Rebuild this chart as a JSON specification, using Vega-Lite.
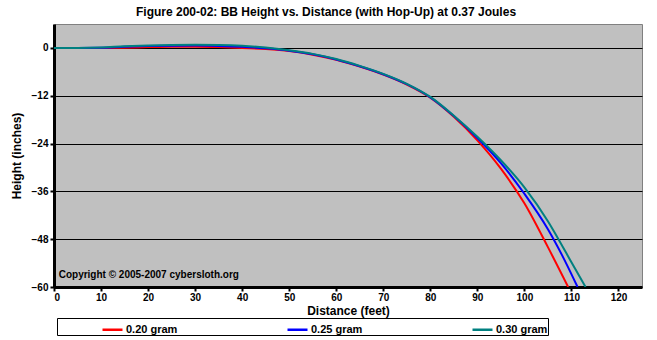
{
  "$schema": "https://vega.github.io/schema/vega-lite/v6.json",
  "width": 588,
  "height": 263,
  "autosize": {"type": "none"},
  "padding": {"left": 54, "top": 24, "right": 15, "bottom": 53},
  "background": "white",
  "title": {
    "text": "Figure 200-02:  BB Height vs. Distance (with Hop-Up) at 0.37 Joules",
    "font": "Liberation Sans",
    "fontSize": 12,
    "fontWeight": "bold",
    "color": "black",
    "anchor": "middle",
    "frame": "bounds",
    "offset": 5
  },
  "config": {
    "font": "Liberation Sans",
    "view": {"fill": "#C0C0C0", "stroke": "#808080", "strokeWidth": 1}
  },
  "data": {
    "values": [
      {"d": 0, "h": 0, "s": "0.20 gram"},
      {"d": 5, "h": 0, "s": "0.20 gram"},
      {"d": 10, "h": 0, "s": "0.20 gram"},
      {"d": 15, "h": 0.05, "s": "0.20 gram"},
      {"d": 20, "h": 0.2, "s": "0.20 gram"},
      {"d": 25, "h": 0.3, "s": "0.20 gram"},
      {"d": 30, "h": 0.3, "s": "0.20 gram"},
      {"d": 35, "h": 0.2, "s": "0.20 gram"},
      {"d": 40, "h": 0, "s": "0.20 gram"},
      {"d": 45, "h": -0.3, "s": "0.20 gram"},
      {"d": 50, "h": -0.8, "s": "0.20 gram"},
      {"d": 55, "h": -1.7, "s": "0.20 gram"},
      {"d": 60, "h": -3.0, "s": "0.20 gram"},
      {"d": 65, "h": -4.7, "s": "0.20 gram"},
      {"d": 70, "h": -6.7, "s": "0.20 gram"},
      {"d": 75, "h": -9.2, "s": "0.20 gram"},
      {"d": 80, "h": -12.5, "s": "0.20 gram"},
      {"d": 85, "h": -17.3, "s": "0.20 gram"},
      {"d": 90, "h": -23.2, "s": "0.20 gram"},
      {"d": 95, "h": -30.3, "s": "0.20 gram"},
      {"d": 100, "h": -39.0, "s": "0.20 gram"},
      {"d": 105, "h": -50.0, "s": "0.20 gram"},
      {"d": 109.3, "h": -60, "s": "0.20 gram"},
      {"d": 0, "h": 0, "s": "0.25 gram"},
      {"d": 5, "h": 0, "s": "0.25 gram"},
      {"d": 10, "h": 0.05, "s": "0.25 gram"},
      {"d": 15, "h": 0.3, "s": "0.25 gram"},
      {"d": 20, "h": 0.45, "s": "0.25 gram"},
      {"d": 25, "h": 0.55, "s": "0.25 gram"},
      {"d": 30, "h": 0.6, "s": "0.25 gram"},
      {"d": 35, "h": 0.5, "s": "0.25 gram"},
      {"d": 40, "h": 0.3, "s": "0.25 gram"},
      {"d": 45, "h": -0.1, "s": "0.25 gram"},
      {"d": 50, "h": -0.7, "s": "0.25 gram"},
      {"d": 55, "h": -1.6, "s": "0.25 gram"},
      {"d": 60, "h": -2.9, "s": "0.25 gram"},
      {"d": 65, "h": -4.6, "s": "0.25 gram"},
      {"d": 70, "h": -6.6, "s": "0.25 gram"},
      {"d": 75, "h": -9.1, "s": "0.25 gram"},
      {"d": 80, "h": -12.4, "s": "0.25 gram"},
      {"d": 85, "h": -17.1, "s": "0.25 gram"},
      {"d": 90, "h": -22.6, "s": "0.25 gram"},
      {"d": 95, "h": -28.9, "s": "0.25 gram"},
      {"d": 100, "h": -36.6, "s": "0.25 gram"},
      {"d": 105, "h": -45.5, "s": "0.25 gram"},
      {"d": 108, "h": -52.0, "s": "0.25 gram"},
      {"d": 111.3, "h": -60, "s": "0.25 gram"},
      {"d": 0, "h": 0, "s": "0.30 gram"},
      {"d": 5, "h": 0, "s": "0.30 gram"},
      {"d": 10, "h": 0.1, "s": "0.30 gram"},
      {"d": 15, "h": 0.4, "s": "0.30 gram"},
      {"d": 20, "h": 0.6, "s": "0.30 gram"},
      {"d": 25, "h": 0.75, "s": "0.30 gram"},
      {"d": 30, "h": 0.8, "s": "0.30 gram"},
      {"d": 35, "h": 0.75, "s": "0.30 gram"},
      {"d": 40, "h": 0.55, "s": "0.30 gram"},
      {"d": 45, "h": 0.1, "s": "0.30 gram"},
      {"d": 50, "h": -0.6, "s": "0.30 gram"},
      {"d": 55, "h": -1.5, "s": "0.30 gram"},
      {"d": 60, "h": -2.8, "s": "0.30 gram"},
      {"d": 65, "h": -4.5, "s": "0.30 gram"},
      {"d": 70, "h": -6.5, "s": "0.30 gram"},
      {"d": 75, "h": -9.0, "s": "0.30 gram"},
      {"d": 80, "h": -12.3, "s": "0.30 gram"},
      {"d": 85, "h": -17.0, "s": "0.30 gram"},
      {"d": 90, "h": -22.3, "s": "0.30 gram"},
      {"d": 95, "h": -28.2, "s": "0.30 gram"},
      {"d": 100, "h": -35.0, "s": "0.30 gram"},
      {"d": 105, "h": -43.5, "s": "0.30 gram"},
      {"d": 107, "h": -47.5, "s": "0.30 gram"},
      {"d": 110, "h": -53.8, "s": "0.30 gram"},
      {"d": 113, "h": -60, "s": "0.30 gram"}
    ]
  },
  "layer": [
    {
      "mark": {"type": "line", "strokeWidth": 2, "interpolate": "monotone", "clip": true},
      "encoding": {
        "x": {
          "field": "d", "type": "quantitative",
          "scale": {"domain": [0, 125], "nice": false, "zero": false},
          "axis": {
            "title": "Distance (feet)",
            "values": [0, 10, 20, 30, 40, 50, 60, 70, 80, 90, 100, 110, 120],
            "grid": false,
            "domainColor": "black", "domainWidth": 3,
            "tickColor": "black", "tickSize": 4, "tickWidth": 2,
            "labelFont": "Liberation Sans", "labelFontSize": 10, "labelFontWeight": "bold", "labelColor": "black",
            "labelPadding": 1,
            "titleFont": "Liberation Sans", "titleFontSize": 12, "titleFontWeight": "bold", "titleColor": "black",
            "titlePadding": 3
          }
        },
        "y": {
          "field": "h", "type": "quantitative",
          "scale": {"domain": [-60, 6], "nice": false, "zero": false},
          "axis": {
            "title": "Height (inches)",
            "values": [-60, -48, -36, -24, -12, 0],
            "grid": true, "gridColor": "black", "gridWidth": 1, "gridOpacity": 1,
            "domainColor": "black", "domainWidth": 3,
            "tickColor": "black", "tickSize": 4, "tickWidth": 2,
            "labelFont": "Liberation Sans", "labelFontSize": 10, "labelFontWeight": "bold", "labelColor": "black",
            "labelPadding": 2,
            "titleFont": "Liberation Sans", "titleFontSize": 12, "titleFontWeight": "bold", "titleColor": "black",
            "titlePadding": 8
          }
        },
        "color": {
          "field": "s", "type": "nominal",
          "scale": {"domain": ["0.20 gram", "0.25 gram", "0.30 gram"], "range": ["#FF0000", "#0000FF", "#008080"]},
          "legend": {
            "orient": "none",
            "legendX": 3,
            "legendY": 294,
            "direction": "horizontal",
            "title": "\u00a0",
            "titleOrient": "left",
            "titlePadding": 44,
            "titleFontSize": 11,
            "padding": 0,
            "strokeColor": "black",
            "fillColor": "white",
            "symbolType": "stroke",
            "symbolSize": 400,
            "symbolStrokeWidth": 2.5,
            "labelFont": "Liberation Sans", "labelFontSize": 11, "labelFontWeight": "bold", "labelColor": "black",
            "labelOffset": 2,
            "columnPadding": 104
          }
        }
      }
    },
    {
      "data": {"values": [{}]},
      "mark": {
        "type": "text",
        "text": "Copyright \u00a9 2005-2007 cybersloth.org",
        "align": "left",
        "baseline": "middle",
        "font": "Liberation Sans",
        "fontSize": 10,
        "fontWeight": "bold",
        "color": "black"
      },
      "encoding": {
        "x": {"datum": 1},
        "y": {"datum": -57}
      }
    }
  ]
}
